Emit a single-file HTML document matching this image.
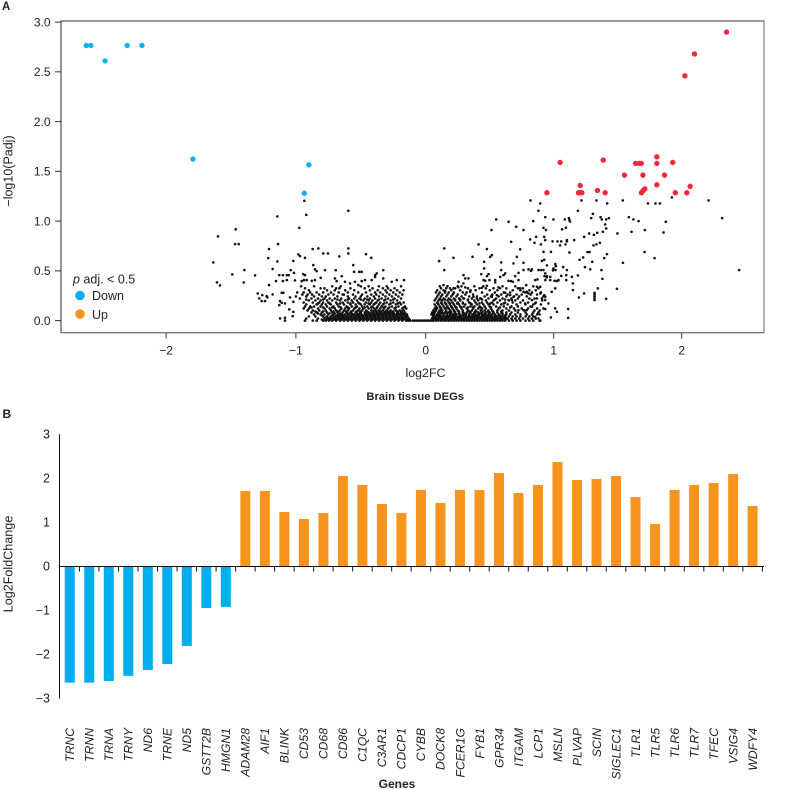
<!DOCTYPE html>
<html lang="en">
<head>
<meta charset="utf-8">
<title>Brain tissue DEGs</title>
<style>
html,body{margin:0;padding:0;background:#fff;}
svg{display:block;}
text{font-family:"Liberation Sans",sans-serif;fill:#222;}
</style>
</head>
<body>
<svg id="fig" width="786" height="789" viewBox="0 0 786 789" xmlns="http://www.w3.org/2000/svg">
  <text x="2" y="10" font-size="11.5" font-weight="bold">A</text>
  <g id="a-neutral"></g>
  <g id="a-sig"></g>
  <g fill="none">
    <line x1="764" y1="21" x2="764" y2="332.7" stroke="#a3a3a3" stroke-width="1.6"/>
    <line x1="60.5" y1="21" x2="764.5" y2="21" stroke="#7b7b7b" stroke-width="1.4"/>
    <line x1="61" y1="20.5" x2="61" y2="333" stroke="#7b7b7b" stroke-width="1.6"/>
    <line x1="60.5" y1="332.7" x2="764.5" y2="332.7" stroke="#7b7b7b" stroke-width="1.4"/>
  </g>
  <g id="a-axes"></g>
  <text transform="translate(12.5,171) rotate(-90)" text-anchor="middle" font-size="12.5">−log10(Padj)</text>
  <text x="425.5" y="377" text-anchor="middle" font-size="12.4">log2FC</text>
  <text x="415.2" y="400" text-anchor="middle" font-size="11.2" font-weight="bold">Brain tissue DEGs</text>
  <g>
    <text x="73" y="283.5" font-size="12.5"><tspan font-style="italic">p</tspan> adj. &lt; 0.5</text>
    <circle cx="80" cy="295.5" r="4.8" fill="#00aeef"/>
    <text x="92" y="300" font-size="12.5">Down</text>
    <circle cx="80" cy="314" r="4.8" fill="#f7941d"/>
    <text x="92" y="319" font-size="12.5">Up</text>
  </g>

  <text x="2.5" y="418" font-size="12" font-weight="bold">B</text>
  <g id="b-bars"></g>
  <g id="b-axes"></g>
  <text transform="translate(12.5,564) rotate(-90)" text-anchor="middle" font-size="12.6">Log2FoldChange</text>
  <text x="397" y="788" text-anchor="middle" font-size="12" font-weight="bold">Genes</text>
</svg>
<script>
/* ---------- Panel A data ---------- */
var volcanoXTicks = [-2, -1, 0, 1, 2];
var volcanoYTicks = [0, 0.5, 1, 1.5, 2, 2.5, 3];

var downX = [-2.615, -2.58, -2.47, -2.30, -2.186, -1.793, -0.90, -0.935];
var downY = [2.765, 2.765, 2.61, 2.765, 2.765, 1.623, 1.566, 1.28];

var upX = [2.35, 2.10, 2.025, 1.05, 1.387, 1.64, 1.67, 1.684, 1.806, 1.806, 1.93, 1.553, 1.697, 1.866, 1.806, 1.207, 0.947, 1.194, 1.208, 1.22, 1.342, 1.402, 1.712, 1.70, 1.686, 1.95, 2.04, 2.066];
var upY = [2.90, 2.68, 2.46, 1.59, 1.613, 1.58, 1.58, 1.58, 1.646, 1.58, 1.59, 1.462, 1.462, 1.462, 1.365, 1.358, 1.285, 1.285, 1.285, 1.285, 1.308, 1.285, 1.325, 1.308, 1.285, 1.285, 1.285, 1.349];

/* individually read sparse non-significant genes: [log2FC, -log10(padj)] */
var sparsePoints = [
[-1.60,.846],[-1.464,.917],[-1.469,.769],[-1.441,.769],[-1.636,.585],[-1.49,.464],[-1.397,.508],[-1.315,.454],[-1.402,.384],[-1.608,.384],[-1.585,.354],
[-1.143,1.047],[-.935,1.204],[-.92,1.063],[-.974,.933],[-.596,1.104],[-1.138,.769],[-1.207,.719],[-1.213,.628],[-1.143,.595],[-1.179,.518],[-1.02,.60],
[-.981,.665],[-.968,.648],[-.93,.631],[-.871,.719],[-.827,.726],[-.789,.675],[-.753,.675],[-.666,.645],[-.596,.726],[-.596,.675],[-.46,.668],[-.419,.631],
[-.866,.558],[-.853,.515],[-.84,.497],[-.776,.507],[-.693,.507],[-.558,.558],[-.552,.49],[-.512,.49],[-.493,.49],[-.327,.507],[-.39,.457],[-.377,.474],
[-1.04,.507],[-1.015,.48],[-1.128,.457],[-1.10,.457],[-1.07,.457],[-1.055,.457],[-1.153,.397],[-1.10,.397],[-1.07,.407],[-1.007,.404],
[-.943,.467],[-.93,.457],[-.938,.407],[-.917,.407],[-.955,.397],[-.878,.40],[-.853,.407],[-.809,.43],[-.699,.424],[-.686,.397],[-.647,.447],
[-.622,.39],[-.583,.374],[-.545,.39],[-.519,.357],[-.493,.397],[-.468,.407],[-.416,.407],[-.39,.44],[-.327,.424],[-.262,.39],[-.223,.407],[-.167,.407],
[-1.294,.273],[-1.282,.223],[-1.259,.256],[-1.225,.246],[-1.22,.233],[-1.264,.196],[-1.238,.196],[-1.179,.263],[-1.207,.357],
[-1.109,.28],[-1.097,.28],[-1.122,.196],[-1.128,.156],[-1.109,.179],[-1.084,.173],[-1.045,.233],[-1.02,.189],[-1.051,.113],[-1.02,.088],[-1.025,.045],[-1.122,.022],[-1.084,.028],[-1.084,0],
[.819,1.208],[.895,1.178],[1.217,1.208],[1.334,1.208],[1.418,1.178],[1.54,1.208],[1.736,1.178],[1.795,1.178],[1.83,1.178],[1.923,1.238],[2.21,1.208],
[.881,1.104],[1.189,1.104],[1.306,1.073],[2.316,1.03],[2.449,.508],[.934,1.04],[.998,1.017],[1.087,1.017],[1.119,1.03],[1.123,1.01],[1.127,.997],[.84,1.0],
[1.293,1.03],[1.366,1.04],[1.376,1.017],[1.41,1.017],[1.431,1.03],[1.587,1.04],[1.623,1.017],[1.663,1.0],[1.876,.993],
[1.402,.967],[1.41,.927],[1.384,.893],[1.34,.883],[1.314,.862],[1.277,.876],[1.238,.842],[1.066,.917],[1.095,.933],[.92,.933],[.939,.91],[1.498,.876],
[1.608,.893],[1.712,.91],[1.858,.886],[.863,.842],[.816,.816],[.85,.782],[.9,.766],[.934,.809],[.926,.842],[.991,.796],[1.03,.796],[1.059,.796],[1.103,.809],[1.103,.796],[1.16,.809],[1.05,.756],[1.092,.766],
[1.311,.756],[1.334,.766],[1.361,.782],[1.71,.689],[1.788,.628],[1.541,.581],[1.264,.689],[1.28,.689],[1.416,.668],[1.395,.628],[1.23,.635],[1.202,.611],[1.301,.591],
[1.123,.685],[.92,.691],[.978,.691],[.908,.60],[.926,.611],[.947,.555],[1.012,.568],[1.017,.548],[1.074,.538],[.998,.525],[1.014,.508],[.994,.505],
[1.244,.538],[1.285,.515],[1.373,.508],[.83,.515],[.881,.508],[.90,.508],[.92,.508],[.934,.474],[.928,.447],[.947,.447],[.973,.44],[1.059,.45],[1.098,.457],[1.142,.44],[1.189,.454],[1.103,.508],[1.381,.42],
[1.494,.32],[1.41,.219],[1.345,.324],[1.319,.28],[1.319,.263],[1.319,.246],[1.319,.226],[1.319,.206],[1.238,.273],[1.197,.233],[1.15,.307],[1.113,.116],[1.113,.028],
[1.15,.374],[1.098,.407],[1.038,.407],[1.025,.397],[1.006,.40],[.973,.407],[.934,.407],[.945,.434],[1.012,.324],[.984,.289],[.978,.032],[1.025,.088],[1.012,.123],
[.934,.116],[.959,.173],[.934,.206],[.908,.223],[.926,.256],[.895,.34],[.869,.34],[.855,.407],[.873,.414],[.803,.515],[.764,.508],[.822,.5],
[.725,.48],[.699,.447],[.725,.407],[.647,.40],[.666,.397],[.681,.39],[.608,.457],[.582,.44],[.621,.474],[.59,.508],[.59,.585],[.686,.575],[.764,.581],[.712,.641],[.738,.716],
[.517,.658],[.504,.641],[.478,.719],[.413,.766],[.366,.641],[.457,.591],[.457,.525],[.668,.792],[.707,.943],[.764,.91],[.647,.993],[.551,1.017],[.514,.91],
[.145,.726],[.105,.598],[.217,.631],[.145,.508],[.139,.357],[.152,.296],
[.434,.467],[.491,.467],[.478,.447],[.452,.407],[.465,.40],[.498,.407],[.543,.407],[.478,.35],[.439,.33],[.569,.334],[.621,.28],[.543,.384],[.66,.256],[.673,.206],[.686,.239],[.647,.206],
[.295,.457],[.309,.424],[.334,.424],[.256,.39],[.295,.374],[.309,.334],[.256,.334],[.217,.324],[.217,.273],[.348,.289],[.373,.239],[.40,.223],[.295,.223],[.426,.223],[.517,.256],[.556,.256],[.517,.239],
[.785,.357],[.764,.289],[.79,.289],[.803,.273],[.738,.324],[.725,.324],[.895,.273],[.934,.239],[.869,.223],[.855,.173],[.83,.139],[.764,.106],[.725,.106],[.79,.106],[.855,.038],[.881,.022],[.895,0],[.83,.206],[.777,.173]
];

/* crowded base of the volcano, read band by band */
var denseLevels = [.345,.325,.305,.283,.262,.243,.222,.203,.182,.163,.142,.122,.102,.082,.062,.042,.021,0,.011,.031,.052,.072,.092,.132,.172,.212];
var denseXLeft = [
[-.96,-.86,-.72,-.655,-.50,-.44,-.36,-.30,-.19],
[-.93,-.81,-.78,-.69,-.665,-.58,-.47,-.41,-.33,-.29,-.24],
[-.90,-.76,-.70,-.62,-.55,-.43,-.37,-.31,-.27,-.22,-.17],
[-.99,-.94,-.89,-.84,-.79,-.73,-.67,-.60,-.52,-.46,-.39,-.35,-.30,-.25,-.20],
[-.95,-.91,-.875,-.82,-.75,-.71,-.64,-.63,-.56,-.49,-.42,-.38,-.33,-.28,-.23,-.18],
[-1.0,-.92,-.86,-.80,-.77,-.68,-.60,-.54,-.50,-.45,-.40,-.36,-.31,-.26,-.21],
[-.97,-.88,-.83,-.78,-.74,-.70,-.65,-.59,-.55,-.51,-.47,-.43,-.39,-.34,-.29,-.24,-.19],
[-.90,-.85,-.81,-.76,-.72,-.66,-.62,-.57,-.53,-.48,-.44,-.41,-.37,-.32,-.27,-.22],
[-.94,-.87,-.82,-.79,-.75,-.69,-.64,-.60,-.56,-.52,-.46,-.42,-.38,-.35,-.30,-.25,-.20,-.17],
[-.92,-.84,-.80,-.77,-.73,-.68,-.63,-.58,-.54,-.50,-.47,-.43,-.40,-.36,-.33,-.28,-.23,-.19],
[-.93,-.89,-.86,-.81,-.76,-.71,-.67,-.61,-.57,-.53,-.49,-.45,-.41,-.37,-.34,-.31,-.26,-.21,-.16],
[-.94,-.90,-.83,-.78,-.74,-.70,-.65,-.62,-.59,-.55,-.51,-.48,-.44,-.40,-.38,-.35,-.32,-.29,-.24,-.18,-.15],
[-.91,-.87,-.82,-.77,-.73,-.69,-.66,-.63,-.60,-.56,-.52,-.49,-.46,-.42,-.39,-.36,-.33,-.30,-.27,-.23,-.20,-.17],
[-.88,-.84,-.80,-.76,-.72,-.68,-.64,-.61,-.58,-.54,-.50,-.47,-.44,-.41,-.38,-.35,-.32,-.29,-.26,-.22,-.19,-.16],
[-.86,-.81,-.78,-.75,-.71,-.67,-.645,-.62,-.59,-.555,-.525,-.495,-.465,-.435,-.405,-.375,-.345,-.315,-.285,-.255,-.225,-.195,-.165,-.145],
[-.90,-.85,-.79,-.76,-.73,-.70,-.67,-.64,-.61,-.58,-.55,-.52,-.49,-.46,-.43,-.40,-.37,-.34,-.31,-.28,-.25,-.22,-.19,-.16,-.14],
[-.92,-.83,-.78,-.75,-.725,-.695,-.665,-.635,-.605,-.575,-.545,-.515,-.485,-.455,-.425,-.395,-.365,-.335,-.305,-.275,-.245,-.215,-.185,-.155,-.13],
[-.93,-.87,-.84,-.79,-.77,-.745,-.72,-.69,-.66,-.63,-.60,-.57,-.54,-.51,-.48,-.45,-.42,-.39,-.36,-.33,-.30,-.27,-.24,-.21,-.18,-.15,-.135,-.12,-.10,-.085,-.07,-.055,-.04,-.025,-.01,.005,.02,.035,.05],
[-.80,-.76,-.735,-.705,-.68,-.65,-.62,-.59,-.56,-.53,-.50,-.47,-.44,-.41,-.38,-.35,-.32,-.29,-.26,-.23,-.20,-.17,-.145,-.125],
[-.77,-.74,-.71,-.68,-.65,-.625,-.595,-.565,-.535,-.505,-.475,-.445,-.415,-.385,-.355,-.325,-.295,-.265,-.235,-.205,-.175,-.15],
[-.80,-.72,-.685,-.655,-.63,-.60,-.57,-.54,-.51,-.48,-.45,-.42,-.39,-.36,-.33,-.30,-.27,-.24,-.21,-.18,-.15],
[-.83,-.74,-.70,-.66,-.60,-.57,-.53,-.51,-.455,-.425,-.395,-.365,-.335,-.305,-.275,-.245,-.21,-.175],
[-.85,-.79,-.71,-.675,-.615,-.575,-.535,-.505,-.45,-.405,-.375,-.345,-.31,-.28,-.25,-.215,-.185],
[-.88,-.79,-.72,-.655,-.60,-.54,-.47,-.42,-.375,-.325,-.28,-.23,-.17],
[-.83,-.74,-.66,-.58,-.51,-.44,-.39,-.32,-.27,-.215],
[-.92,-.79,-.68,-.60,-.50,-.45,-.36,-.31,-.25]
];
var denseXRight = [
[.11,.17,.25,.28,.38,.45,.60,.70,.84],
[.12,.16,.19,.23,.33,.42,.47,.53,.58,.63,.72,.76,.88],
[.09,.14,.20,.27,.35,.39,.50,.56,.68,.74,.81,.86],
[.08,.11,.15,.18,.22,.29,.32,.44,.54,.61,.66,.78,.83,.90],
[.10,.13,.17,.21,.25,.31,.37,.48,.52,.59,.64,.71,.75,.82,.87],
[.09,.12,.16,.20,.24,.28,.34,.40,.46,.51,.57,.63,.69,.73,.79,.92],
[.08,.11,.14,.18,.22,.26,.30,.36,.43,.49,.55,.60,.67,.72,.81,.85],
[.07,.10,.13,.17,.20,.23,.27,.33,.38,.41,.47,.53,.58,.65,.70,.76,.91],
[.09,.12,.15,.18,.21,.25,.29,.34,.39,.44,.48,.52,.56,.62,.68,.74,.80,.86],
[.07,.10,.13,.16,.19,.22,.26,.31,.36,.40,.45,.49,.53,.59,.64,.71,.78,.84,.90],
[.08,.11,.14,.17,.20,.23,.27,.30,.35,.38,.42,.46,.50,.55,.61,.67,.72,.82],
[.07,.09,.12,.15,.18,.21,.24,.28,.32,.37,.41,.44,.47,.51,.57,.63,.69,.75,.80,.87,.92],
[.06,.08,.11,.13,.16,.19,.22,.25,.29,.33,.36,.39,.43,.46,.49,.52,.56,.60,.65,.70,.77,.85,.89],
[.05,.07,.10,.12,.15,.18,.20,.23,.26,.29,.32,.35,.38,.41,.44,.47,.50,.53,.56,.59,.63,.67,.72,.78,.84,.88],
[.045,.065,.09,.115,.14,.165,.19,.215,.24,.265,.29,.315,.34,.365,.39,.415,.44,.465,.49,.515,.54,.57,.60,.63,.66,.70,.74,.79,.83,.87,.89],
[.06,.08,.10,.12,.14,.16,.18,.20,.22,.24,.26,.28,.30,.32,.34,.36,.38,.40,.42,.44,.46,.48,.50,.52,.54,.56,.58,.60,.62,.65,.68,.71,.74,.78,.81,.84],
[.05,.07,.09,.11,.13,.15,.17,.19,.21,.23,.25,.27,.29,.31,.33,.35,.37,.39,.41,.43,.45,.47,.49,.51,.53,.55,.57,.59,.61,.64,.67,.70,.73,.76,.80,.83,.86],
[.06,.08,.10,.12,.14,.16,.18,.20,.22,.24,.26,.28,.30,.32,.34,.36,.38,.40,.42,.44,.46,.48,.50,.52,.54,.56,.58,.60,.62,.65,.68,.71,.74,.78,.81,.84,.89],
[.05,.075,.095,.125,.145,.175,.195,.225,.245,.275,.295,.325,.345,.375,.395,.425,.455,.475,.505,.535,.555,.595,.625,.675],
[.055,.08,.105,.125,.155,.175,.205,.225,.255,.275,.305,.325,.355,.375,.405,.43,.455,.485,.515,.545,.585,.625],
[.06,.085,.105,.14,.17,.21,.235,.27,.31,.34,.37,.40,.45,.48,.51,.545,.58,.62],
[.06,.10,.135,.165,.195,.23,.26,.30,.345,.38,.425,.46,.495,.53,.60],
[.075,.105,.125,.16,.195,.225,.26,.29,.34,.395,.44,.485,.525,.59],
[.085,.115,.165,.205,.24,.28,.33,.37,.43,.51,.58,.66],
[.095,.125,.155,.19,.245,.29,.35,.42,.505,.61],
[.115,.15,.19,.23,.27,.33,.44,.54,.62]
];

/* ---------- Panel B data ---------- */
var geneNames = ["TRNC","TRNN","TRNA","TRNY","ND6","TRNE","ND5","GSTT2B","HMGN1","ADAM28","AIF1","BLINK","CD53","CD68","CD86","C1QC","C3AR1","CDCP1","CYBB","DOCK8","FCER1G","FYB1","GPR34","ITGAM","LCP1","MSLN","PLVAP","SCIN","SIGLEC1","TLR1","TLR5","TLR6","TLR7","TFEC","VSIG4","WDFY4"];
var geneFoldChange = [-2.644,-2.644,-2.606,-2.49,-2.356,-2.22,-1.81,-.947,-.924,1.712,1.712,1.235,1.076,1.212,2.053,1.848,1.417,1.212,1.735,1.44,1.735,1.735,2.12,1.667,1.848,2.37,1.962,1.985,2.053,1.576,.962,1.735,1.848,1.894,2.098,1.371];
var barYTicks = [3, 2, 1, 0, -1, -2, -3];

/* ---------- helpers ---------- */
var NS = "http://www.w3.org/2000/svg";
function make(tag, attrs, parent) {
  var el = document.createElementNS(NS, tag);
  for (var k in attrs) { el.setAttribute(k, attrs[k]); }
  parent.appendChild(el);
  return el;
}
function minusText(v, digits) {
  var s = digits ? Math.abs(v).toFixed(digits) : String(Math.abs(v));
  return (v < 0 ? "\u2212" : "") + s;
}

/* ---------- axis functions ---------- */
function volcanoX(v) { return 425.7 + v * (v < 0 ? 129.8 : 128); }
function volcanoY(v) { return 320.6 - v * 99.5; }
function barY(v) { return 566.3 - v * 44; }
var bandStart = 60, bandStep = 19.51;
function barCenter(i) { return bandStart + bandStep * (i + 0.5); }

/* ---------- draw panel A ---------- */
var gNeutral = document.getElementById("a-neutral");
var gSig = document.getElementById("a-sig");
var gAAxes = document.getElementById("a-axes");

sparsePoints.forEach(function (p) {
  var c = make("circle", { cx: volcanoX(p[0]), cy: volcanoY(p[1]), r: 1.3, fill: "#111" }, gNeutral);
  
  
});
denseLevels.forEach(function (lvl, row) {
  denseXLeft[row].concat(denseXRight[row]).forEach(function (x) {
    var c = make("circle", { cx: volcanoX(x), cy: volcanoY(lvl), r: 1.3, fill: "#111" }, gNeutral);
    
    
  });
});
downX.forEach(function (x, i) {
  var c = make("circle", { cx: volcanoX(x), cy: volcanoY(downY[i]), r: 2.7, fill: "#0db4ef" }, gSig);
  
  
});
upX.forEach(function (x, i) {
  var c = make("circle", { cx: volcanoX(x), cy: volcanoY(upY[i]), r: 2.7, fill: "#f2283f" }, gSig);
  
  
});
volcanoXTicks.forEach(function (t) {
  var x = volcanoX(t);
  var tick = make("line", { x1: x, x2: x, y1: 333, y2: 338.5, stroke: "#333", "stroke-width": 1 }, gAAxes);
  
  
  var lab = make("text", { x: x, y: 354.5, "text-anchor": "middle", "font-size": 12 }, gAAxes);
  
  
  lab.textContent = minusText(t);
});
volcanoYTicks.forEach(function (t) {
  var y = volcanoY(t);
  var tick = make("line", { x1: 55, x2: 61, y1: y, y2: y, stroke: "#333", "stroke-width": 1 }, gAAxes);
  
  
  var lab = make("text", { x: 50.5, y: y + 4.3, "text-anchor": "end", "font-size": 12 }, gAAxes);
  
  
  lab.textContent = t.toFixed(1);
});

/* ---------- draw panel B ---------- */
var gBars = document.getElementById("b-bars");
var gBAxes = document.getElementById("b-axes");
geneFoldChange.forEach(function (v, i) {
  var y0 = barY(0), y1 = barY(v);
  var r = make("rect", { x: barCenter(i) - 5, y: Math.min(y0, y1), width: 10, height: Math.abs(y1 - y0), fill: v < 0 ? "#00aeef" : "#f7941d" }, gBars);
  
  
});
var yAxisLine = make("line", { x1: 59.5, x2: 59.5, y1: 434.3, y2: 698.5, stroke: "#111", "stroke-width": 1 }, gBAxes);


var xAxisLine = make("line", { x1: 59, x2: 764, y1: 566.5, y2: 566.5, stroke: "#111", "stroke-width": 1 }, gBAxes);


barYTicks.forEach(function (t) {
  var lab = make("text", { x: 50, y: barY(t) + 4, "text-anchor": "end", "font-size": 12.5 }, gBAxes);
  
  
  lab.textContent = minusText(t);
});
geneNames.forEach(function (name, i) {
  var tx = bandStart + bandStep * (i + 1);
  var tick = make("line", { x1: tx, x2: tx, y1: 566.5, y2: 571.5, stroke: "#111", "stroke-width": 1 }, gBAxes);
  
  
  var cx = barCenter(i) + 4.3;
  var lab = make("text", { transform: "translate(" + cx + ",728) rotate(-90)", "text-anchor": "end", "font-size": 12.2, "font-style": "italic" }, gBAxes);
  
  
  lab.textContent = name;
});
</script>
</body>
</html>
